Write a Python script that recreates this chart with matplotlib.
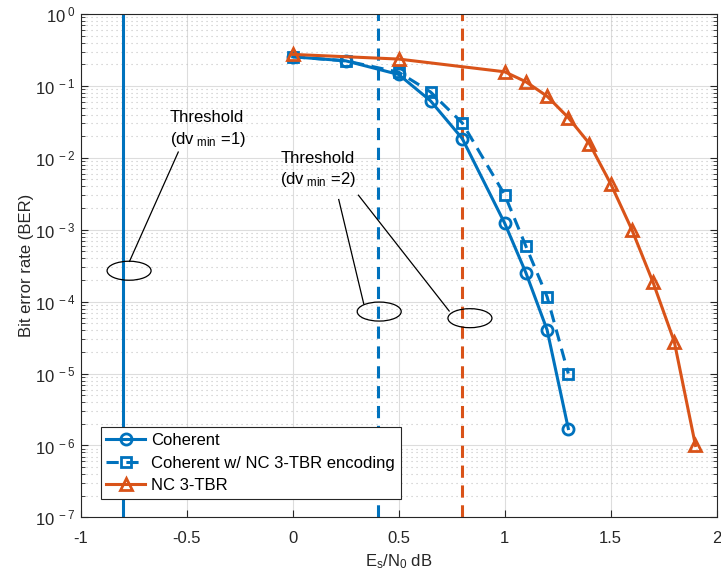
import numpy as np
import matplotlib
matplotlib.use("Agg")
import matplotlib.pyplot as plt
from matplotlib.patches import Ellipse
from matplotlib.transforms import ScaledTranslation

plt.rcParams["font.family"] = ["Liberation Sans", "DejaVu Sans"]
plt.rcParams["mathtext.fontset"] = "custom"
plt.rcParams["mathtext.rm"] = "Liberation Sans"
plt.rcParams["mathtext.it"] = "Liberation Sans"

BLUE = "#0072BD"
ORANGE = "#D95319"

# data
x_coh = [0, 0.25, 0.5, 0.65, 0.8, 1.0, 1.1, 1.2, 1.3]
ber_coh = [0.254, 0.223, 0.144, 0.062, 0.0185, 1.23e-3, 2.52e-4, 4.05e-5, 1.72e-6]

x_coh_nc = [0, 0.25, 0.5, 0.65, 0.8, 1.0, 1.1, 1.2, 1.3]
ber_coh_nc = [0.254, 0.223, 0.155, 0.0824, 0.0305, 3.06e-3, 5.9e-4, 1.17e-4, 1.0e-5]

x_nc = [0, 0.5, 1.0, 1.1, 1.2, 1.3, 1.4, 1.5, 1.6, 1.7, 1.8, 1.9]
ber_nc = [0.274, 0.236, 0.157, 0.114, 0.0718, 0.0362, 0.0157, 4.35e-3, 1.0e-3,
          1.85e-4, 2.78e-5, 1.0e-6]

thr_dv1 = -0.8
thr_dv2 = [0.4, 0.8]

fig = plt.figure(figsize=(7.21, 5.82), dpi=100)
ax = fig.add_axes([0.112, 0.111, 0.882, 0.865])

ax.set_yscale("log")
ax.set_xlim(-1, 2)
ax.set_ylim(1e-7, 1)

ax.grid(True, which="major", color="#dddddd", lw=0.8)
ax.grid(True, which="minor", axis="y", color="#c4c4c4", lw=0.8, ls=(0, (1, 3.5)))
ax.set_axisbelow(True)

ax.axvline(thr_dv1, color=BLUE, lw=2.2)
ax.axvline(thr_dv2[0], color=BLUE, lw=2.2, ls=(0, (4, 2.5)))
ax.axvline(thr_dv2[1], color=ORANGE, lw=2.2, ls=(0, (4, 2.5)))

ax.plot(x_coh, ber_coh, color=BLUE, lw=2.2, marker="o", ms=8, mfc="none",
        mew=2, label="Coherent")
ax.plot(x_coh_nc, ber_coh_nc, color=BLUE, lw=2.2, ls=(0, (4, 2.5)), marker="s",
        ms=6.5, mfc="none", mew=2, label="Coherent w/ NC 3-TBR encoding")
ax.plot(x_nc, ber_nc, color=ORANGE, lw=2.2, marker="^", ms=9, mfc="none",
        mew=2, label="NC 3-TBR")

# annotations: ellipses + leader lines
def ellipse(x, y):
    tr = fig.dpi_scale_trans + ScaledTranslation(x, y, ax.transData)
    ax.add_patch(Ellipse((0, 0), 0.44, 0.19, transform=tr, fill=False,
                         ec="black", lw=0.9, zorder=5))

ellipse(-0.772, 2.69e-4)
ellipse(0.408, 10 ** -4.138)
ellipse(0.836, 10 ** -4.23)

ax.plot([-0.54, -0.77], [10 ** -1.92, 10 ** -3.44], color="black", lw=0.9)
ax.plot([0.217, 0.335], [10 ** -2.58, 10 ** -4.03], color="black", lw=0.9)
ax.plot([0.31, 0.738], [10 ** -2.52, 10 ** -4.13], color="black", lw=0.9)

ax.text(-0.580, 10 ** -1.34, "Threshold\n(dv$_{\\ \\mathrm{min}}$ =1)", fontsize=12,
        va="top", ha="left", linespacing=1.3)
ax.text(-0.058, 10 ** -1.90, "Threshold\n(dv$_{\\ \\mathrm{min}}$ =2)", fontsize=12,
        va="top", ha="left", linespacing=1.3)

ax.set_xticks([-1, -0.5, 0, 0.5, 1, 1.5, 2])
ax.set_xticklabels(["-1", "-0.5", "0", "0.5", "1", "1.5", "2"])
ax.set_yticks([10.0 ** k for k in range(-7, 1)])
ax.set_yticklabels(["10$^{\\ -%d}$" % -k if k < 0 else "10$^{\\ 0}$" for k in range(-7, 1)])
ax.tick_params(labelsize=12, direction="in", which="both", colors="#262626",
               length=5, right=True)
ax.tick_params(axis="x", pad=10)
ax.tick_params(which="minor", length=3)
ax.tick_params(axis="x", which="minor", bottom=False, top=False)
for sp in ax.spines.values():
    sp.set_color("#262626")

ax.set_xlabel("E$_{\\mathrm{s}}$/N$_{\\mathrm{0}}$ dB", fontsize=12, color="#262626")
ax.set_ylabel("Bit error rate (BER)", fontsize=12, color="#262626", labelpad=1)

leg = ax.legend(loc="lower left", bbox_to_anchor=(0.018, 0.02), fontsize=12,
                fancybox=False, edgecolor="#262626", handlelength=2.3,
                borderpad=0.35, labelspacing=0.45, handletextpad=0.4,
                framealpha=1)
leg.get_frame().set_linewidth(0.8)

fig.savefig("out.png", dpi=100)
